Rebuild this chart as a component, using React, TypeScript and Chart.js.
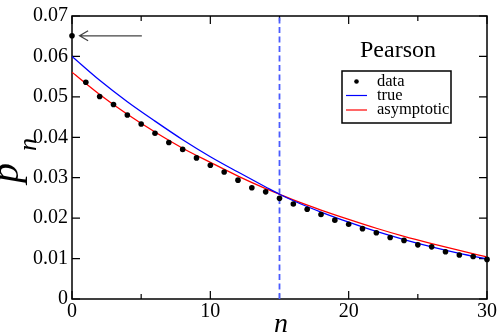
import { useEffect, useRef } from 'react';
import { Chart, registerables } from 'chart.js';

Chart.register(...registerables);

const SERIF = '"Liberation Serif", "Times New Roman", serif';

// data points (n, p_n)
const nData = [0, 1, 2, 3, 4, 5, 6, 7, 8, 9, 10, 11, 12, 13, 14, 15, 16, 17, 18, 19, 20, 21, 22, 23, 24, 25, 26, 27, 28, 29, 30];
const pData = [0.0651, 0.0536, 0.0501, 0.0481, 0.0455, 0.0433, 0.0410, 0.0387, 0.0370, 0.0349, 0.0331, 0.0314, 0.0294, 0.0275, 0.0265, 0.0249, 0.0235, 0.0222, 0.0209, 0.0195, 0.0185, 0.0174, 0.0164, 0.0152, 0.0145, 0.0134, 0.0129, 0.0117, 0.0109, 0.0105, 0.0098];

// curves
const nCurve = [0, 2, 4, 6, 8, 10, 12, 14, 15, 16, 18, 20, 22, 24, 26, 28, 30];
const pTrue = [0.0600, 0.0541, 0.0488, 0.0440, 0.0394, 0.0352, 0.0314, 0.0277, 0.0259, 0.0243, 0.0215, 0.0190, 0.0167, 0.0147, 0.0129, 0.0113, 0.0099];
const pAsym = [0.0561, 0.0506, 0.0457, 0.0413, 0.0373, 0.0338, 0.0304, 0.0273, 0.0259, 0.0245, 0.0220, 0.0197, 0.0175, 0.0155, 0.0137, 0.0120, 0.0104];

// vertical marker and arrow annotation
const markerN = 15;
const arrowFromN = 5.05;
const arrowToN = 0.55;
const arrowP = 0.0651;

const xMajorTicks = [0, 10, 20, 30];
const xMinorTicks = [5, 15, 25];
const yMajorTicks = [0, 0.01, 0.02, 0.03, 0.04, 0.05, 0.06, 0.07];

const legendLabels = ['data', 'true', 'asymptotic'];
const panelTitle = 'Pearson';

const decorPlugin = {
  id: 'decor',
  beforeDatasetsDraw(chart: any) {
    const { ctx, chartArea: a, scales } = chart;
    const xs = scales.x;
    const ys = scales.y;
    ctx.save();
    ctx.strokeStyle = '#000';
    ctx.lineWidth = 1.5;
    ctx.strokeRect(a.left, a.top, a.right - a.left, a.bottom - a.top);
    ctx.lineWidth = 1.2;
    ctx.beginPath();
    for (const v of xMajorTicks) {
      const x = xs.getPixelForValue(v);
      ctx.moveTo(x, a.bottom); ctx.lineTo(x, a.bottom - 8);
      ctx.moveTo(x, a.top); ctx.lineTo(x, a.top + 8);
    }
    for (const v of xMinorTicks) {
      const x = xs.getPixelForValue(v);
      ctx.moveTo(x, a.bottom); ctx.lineTo(x, a.bottom - 5);
      ctx.moveTo(x, a.top); ctx.lineTo(x, a.top + 5);
    }
    for (const v of yMajorTicks) {
      const y = ys.getPixelForValue(v);
      ctx.moveTo(a.left, y); ctx.lineTo(a.left + 8, y);
      ctx.moveTo(a.right, y); ctx.lineTo(a.right - 8, y);
    }
    ctx.stroke();
    ctx.restore();
  },
  afterDraw(chart: any) {
    const { ctx, scales } = chart;
    const xs = scales.x;
    const ys = scales.y;
    ctx.save();
    // arrow
    const x0 = xs.getPixelForValue(arrowFromN);
    const x1 = xs.getPixelForValue(arrowToN);
    const y = ys.getPixelForValue(arrowP);
    ctx.strokeStyle = '#444';
    ctx.lineWidth = 1.3;
    ctx.beginPath();
    ctx.moveTo(x0, y); ctx.lineTo(x1, y);
    ctx.moveTo(x1 + 8.5, y - 5); ctx.lineTo(x1, y); ctx.lineTo(x1 + 8.5, y + 5);
    ctx.stroke();

    // title
    ctx.fillStyle = '#000';
    ctx.font = `24px ${SERIF}`;
    ctx.textAlign = 'center';
    ctx.textBaseline = 'alphabetic';
    ctx.fillText(panelTitle, 398, 57);

    // legend
    const bx = 342, by = 71, bw = 109, bh = 52;
    ctx.fillStyle = '#fff';
    ctx.fillRect(bx, by, bw, bh);
    ctx.strokeStyle = '#000';
    ctx.lineWidth = 1.5;
    ctx.strokeRect(bx, by, bw, bh);
    const rows = [81.5, 95.5, 110];
    const ds = chart.data.datasets;
    ctx.font = `16.5px ${SERIF}`;
    ctx.textAlign = 'left';
    ctx.textBaseline = 'middle';
    for (let i = 0; i < 3; i++) {
      const d = ds[i];
      const ry = rows[i];
      if (i === 0) {
        ctx.fillStyle = '#000';
        ctx.beginPath();
        ctx.arc(356.5, ry, 2.3, 0, Math.PI * 2);
        ctx.fill();
      } else {
        ctx.strokeStyle = d.borderColor;
        ctx.lineWidth = 1.2;
        ctx.beginPath();
        ctx.moveTo(346, ry); ctx.lineTo(367, ry);
        ctx.stroke();
      }
      ctx.fillStyle = '#000';
      ctx.fillText(legendLabels[i], 377, ry);
    }

    // axis titles
    ctx.fillStyle = '#000';
    ctx.textAlign = 'center';
    ctx.textBaseline = 'alphabetic';
    ctx.font = `italic 28px ${SERIF}`;
    ctx.fillText('n', 281, 332);

    ctx.save();
    ctx.translate(18, 183);
    ctx.rotate(-Math.PI / 2);
    ctx.textAlign = 'left';
    ctx.font = `italic 40px ${SERIF}`;
    ctx.fillText('p', 0, 0);
    const pw = ctx.measureText('p').width;
    ctx.font = `italic 26px ${SERIF}`;
    ctx.fillText('n', pw + 12, 18);
    ctx.restore();

    ctx.restore();
  },
};

export default function App() {
  const ref = useRef<HTMLCanvasElement>(null);
  useEffect(() => {
    const chart = new Chart(ref.current!, {
      type: 'scatter',
      data: {
        datasets: [
          {
            label: legendLabels[0],
            data: nData.map((n, i) => ({ x: n, y: pData[i] })),
            showLine: false,
            pointRadius: 2.8,
            pointBackgroundColor: '#000',
            pointBorderWidth: 0,
            borderColor: '#000',
            clip: false,
          } as any,
          {
            label: legendLabels[1],
            data: nCurve.map((n, i) => ({ x: n, y: pTrue[i] })),
            showLine: true,
            pointRadius: 0,
            borderColor: '#0000ff',
            borderWidth: 1.3,
            cubicInterpolationMode: 'monotone',
          },
          {
            label: legendLabels[2],
            data: nCurve.map((n, i) => ({ x: n, y: pAsym[i] })),
            showLine: true,
            pointRadius: 0,
            borderColor: '#ff0000',
            borderWidth: 1.3,
            cubicInterpolationMode: 'monotone',
          },
          {
            label: 'marker',
            data: [{ x: markerN, y: 0 }, { x: markerN, y: 0.07 }],
            showLine: true,
            pointRadius: 0,
            borderColor: '#4a5cff',
            borderWidth: 1.8,
            borderDash: [6, 3.5],
          },
        ],
      },
      options: {
        responsive: false,
        animation: false,
        devicePixelRatio: 1,
        layout: { padding: { top: 7, right: 11, left: 0, bottom: 0 } },
        plugins: { legend: { display: false }, tooltip: { enabled: false } },
        scales: {
          x: {
            type: 'linear',
            min: 0,
            max: 30,
            grid: { display: false, drawTicks: false, tickLength: 0 },
            border: { display: false },
            afterFit: (s: any) => { s.height = 36; },
            ticks: {
              stepSize: 10,
              autoSkip: false,
              maxRotation: 0,
              padding: 1,
              color: '#000',
              font: { family: SERIF, size: 20 },
            },
          },
          y: {
            type: 'linear',
            min: 0,
            max: 0.07,
            grid: { display: false, drawTicks: false, tickLength: 0 },
            border: { display: false },
            afterFit: (s: any) => { s.width = 72; },
            ticks: {
              stepSize: 0.01,
              autoSkip: false,
              padding: 4,
              color: '#000',
              font: { family: SERIF, size: 20 },
              callback: (v: any) => (Number(v) === 0 ? '0' : Number(v).toFixed(2)),
            },
          },
        },
      },
      plugins: [decorPlugin],
    });
    return () => chart.destroy();
  }, []);
  return (
    <div style={{ position: 'absolute', left: 0, top: 0, width: 498, height: 335, background: '#fff' }}>
      <canvas ref={ref} width={498} height={335} style={{ display: 'block' }} />
    </div>
  );
}
